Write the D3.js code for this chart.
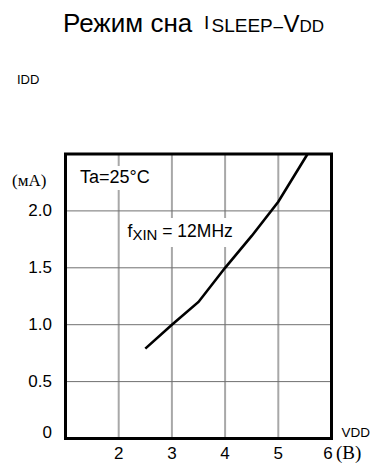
<!DOCTYPE html>
<html>
<head>
<meta charset="utf-8">
<script src="https://cdn.jsdelivr.net/npm/d3@7"></script>
<style>
  body { margin: 0; background: #fff; }
  text { font-family: "Liberation Sans", Arial, sans-serif; fill: #000; }
  .serif { font-family: "Liberation Serif", "Times New Roman", serif; }
</style>
</head>
<body>
<script>
// sleep mode supply current vs supply voltage
var vdd = [2.5, 3.0, 3.5, 4.0, 4.5, 5.0, 5.55];
var idd = [0.79, 1.0, 1.2, 1.5, 1.78, 2.08, 2.5];
var xTicks = [2, 3, 4, 5, 6];
var yTicks = [0, 0.5, 1.0, 1.5, 2.0];
var yTickLabels = ["0", "0.5", "1.0", "1.5", "2.0"];

var width = 371,
    height = 464;

var svg = d3.select("body")
    .append("svg")
    .attr("width", width)
    .attr("height", height);

// plot box
var plotL = 65.5, plotR = 331.5, plotT = 154, plotB = 438.5;

var x = d3.scaleLinear()
    .domain([1, 6])
    .range([plotL, plotR]);

var y = d3.scaleLinear()
    .domain([0, 2.5])
    .range([plotB, plotT]);

// vertical grid (gray, a bit thicker)
svg.selectAll(".vgrid")
    .data(xTicks.slice(0, -1))
    .enter()
    .append("line")
    .attr("class", "vgrid")
    .attr("x1", function(d){ return x(d); })
    .attr("x2", function(d){ return x(d); })
    .attr("y1", plotT)
    .attr("y2", plotB)
    .style("stroke", "#a8a8a8")
    .style("stroke-width", 2);

// horizontal grid (thin, darker)
svg.selectAll(".hgrid")
    .data(yTicks.slice(1))
    .enter()
    .append("line")
    .attr("class", "hgrid")
    .attr("x1", plotL)
    .attr("x2", plotR)
    .attr("y1", function(d){ return y(d); })
    .attr("y2", function(d){ return y(d); })
    .style("stroke", "#707070")
    .style("stroke-width", 1);

// white boxes behind the in-plot notes
svg.append("rect")
    .attr("x", 76).attr("y", 166)
    .attr("width", 80).attr("height", 24)
    .style("fill", "#fff");
svg.append("rect")
    .attr("x", 124).attr("y", 218)
    .attr("width", 114).attr("height", 29)
    .style("fill", "#fff");

svg.append("text")
    .attr("x", 80)
    .attr("y", 182.5)
    .style("font-size", "18px")
    .text("Ta=25°C");

var fx = svg.append("text")
    .attr("x", 127.5)
    .attr("y", 237)
    .style("font-size", "17.5px");
fx.append("tspan").text("f");
fx.append("tspan").attr("dy", 3).style("font-size", "15px").text("XIN");
fx.append("tspan").attr("dy", -3).text(" = 12MHz");

// curve
var line = d3.line()
    .x(function(d, i){ return x(vdd[i]); })
    .y(function(d){ return y(d); });

svg.append("path")
    .datum(idd)
    .attr("d", line)
    .style("fill", "none")
    .style("stroke", "#000")
    .style("stroke-width", 2.6);

// frame
svg.append("rect")
    .attr("x", plotL)
    .attr("y", plotT)
    .attr("width", plotR - plotL)
    .attr("height", plotB - plotT)
    .style("fill", "none")
    .style("stroke", "#000")
    .style("stroke-width", 3);

// y tick labels
svg.selectAll(".ylab")
    .data(yTicks)
    .enter()
    .append("text")
    .attr("class", "ylab")
    .attr("x", 52)
    .attr("y", function(d){ return d === 0 ? y(d) - 1 : y(d) + 5.5; })
    .attr("text-anchor", "end")
    .style("font-size", "17px")
    .text(function(d, i){ return yTickLabels[i]; });

// x tick labels
svg.selectAll(".xlab")
    .data(xTicks)
    .enter()
    .append("text")
    .attr("class", "xlab")
    .attr("x", function(d){ return d === 6 ? x(d) - 3.5 : x(d); })
    .attr("y", 459)
    .attr("text-anchor", "middle")
    .style("font-size", "17px")
    .text(function(d){ return d; });

svg.append("text")
    .attr("class", "serif")
    .attr("x", 336)
    .attr("y", 459)
    .style("font-size", "19px")
    .text("(B)");

svg.append("text")
    .attr("class", "serif")
    .attr("x", 12)
    .attr("y", 186)
    .style("font-size", "17px")
    .text("(мА)");

svg.append("text")
    .attr("x", 341.5)
    .attr("y", 436.5)
    .style("font-size", "13.5px")
    .text("VDD");

svg.append("text")
    .attr("x", 17)
    .attr("y", 83.5)
    .style("font-size", "13px")
    .text("IDD");

// title, pieces placed one by one
var title = svg.append("text")
    .attr("y", 31.5)
    .style("font-size", "26px");
title.append("tspan").attr("x", 63).text("Режим сна");
title.append("tspan").attr("x", 204).attr("dy", -2.5).style("font-size", "19px").text("I");
title.append("tspan").attr("x", 211.5).attr("dy", 2.5).style("font-size", "19px").text("SLEEP");
title.append("tspan").attr("x", 273.5).style("font-size", "17px").text("–");
title.append("tspan").attr("x", 283.5).style("font-size", "24px").text("V");
title.append("tspan").attr("x", 299.5).style("font-size", "17px").text("DD");
</script>
</body>
</html>
